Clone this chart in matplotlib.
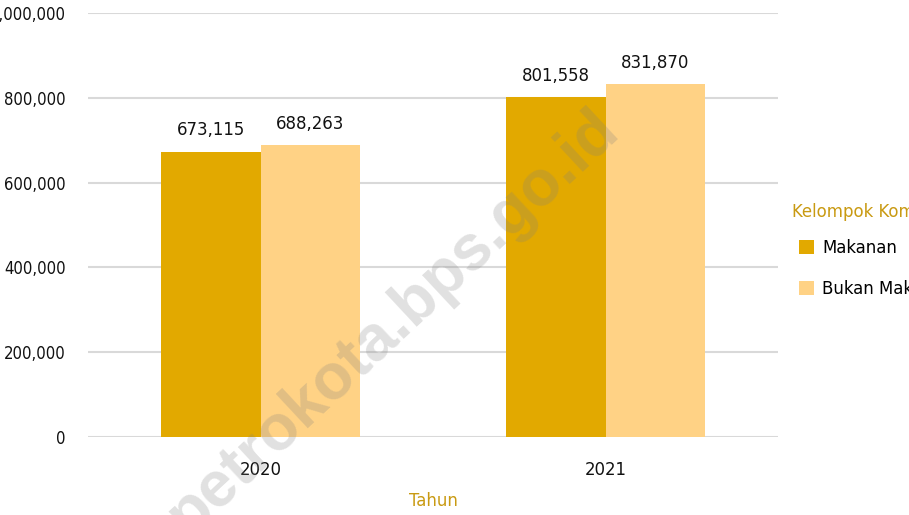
import numpy as np
import matplotlib
matplotlib.use("Agg")
import matplotlib.pyplot as plt
from matplotlib.ticker import FuncFormatter

years = ["2020", "2021"]
makanan = [673115, 801558]
bukan_makanan = [688263, 831870]
series_names = ["Makanan", "Bukan Makanan"]
legend_title = "Kelompok Komoditas"
x_title = "Tahun"
watermark = "petrokota.bps.go.id"

plt.rcParams['font.family'] = ['DejaVu Sans']
plt.rcParams['font.stretch'] = 'condensed'

c_dark = "#E2A900"
c_light = "#FFD285"
c_title = "#C99A12"
fs = 13.2

fig = plt.figure(figsize=(9.09, 5.15), dpi=100)
ax = fig.add_axes([88 / 909, 1 - 437 / 515, 690 / 909, 424 / 515])

x = np.arange(len(years))
w = 0.287
b1 = ax.bar(x - w / 2, makanan, w, color=c_dark, label=series_names[0], zorder=2)
b2 = ax.bar(x + w / 2, bukan_makanan, w, color=c_light, label=series_names[1], zorder=2)

fmt = lambda v: f"{v:,.0f}"
ax.bar_label(b1, labels=[fmt(v) for v in makanan], padding=9, fontsize=fs, color="#111111")
ax.bar_label(b2, labels=[fmt(v) for v in bukan_makanan], padding=9, fontsize=fs, color="#111111")

ax.set_xlim(-0.5, 1.5)
ax.set_ylim(0, 1000000)
ax.set_yticks(np.arange(0, 1000001, 200000))
ax.yaxis.set_major_formatter(FuncFormatter(lambda v, p: fmt(v)))
ax.set_xticks(x)
ax.set_xticklabels(years)
ax.tick_params(axis="both", length=0, labelsize=fs, labelcolor="#111111")
ax.tick_params(axis="y", pad=16, labelsize=12)
ax.tick_params(axis="x", pad=17)
ax.grid(axis="y", color="#d9d9d9", lw=1.5, zorder=0)
for s in ax.spines.values():
    s.set_visible(False)

ax.set_xlabel(x_title, fontsize=fs, color=c_title, labelpad=10)

# legend title placed on its own, handles sit a little further right
fig.text(792 / 909, 1 - 212 / 515, legend_title, ha="left", va="center",
         fontsize=fs, color=c_title)
leg = ax.legend(loc="upper left", bbox_to_anchor=(799 / 909, 1 - 239 / 515),
                bbox_transform=fig.transFigure, frameon=False,
                fontsize=fs, handlelength=0.8, handleheight=0.8,
                handletextpad=0.45, labelspacing=1.25, borderaxespad=0, borderpad=0)

fig.text(393 / 909, 1 - 322 / 515, watermark, rotation=43, ha="center", va="center",
         fontsize=46, fontweight="bold", fontstretch="normal",
         family=["Liberation Sans", "DejaVu Sans"],
         color="#808080", alpha=0.24, zorder=10)

fig.savefig("out.png", dpi=100)
